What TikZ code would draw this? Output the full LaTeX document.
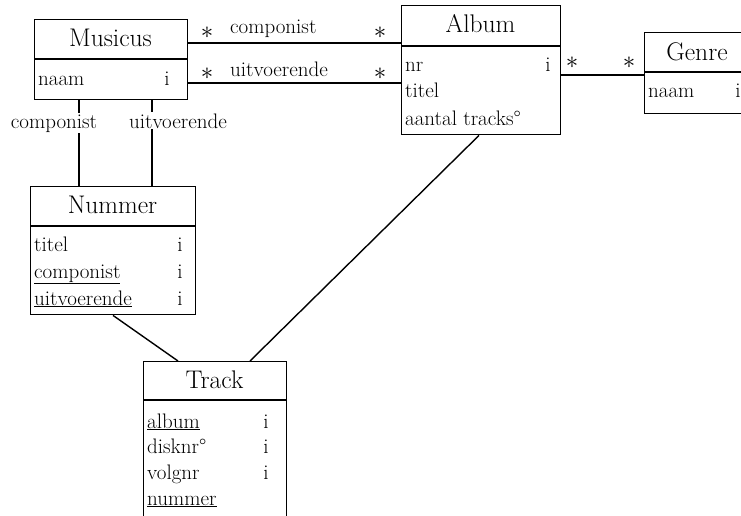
\documentclass[tikz,border=0pt]{standalone}
\begin{document}
\begin{tikzpicture}[x=1pt,y=-1pt,
  box/.style={draw, line width=1.4pt, rectangle, inner sep=0pt, anchor=north west},
  title/.style={font=\fontsize{25.5}{30}\selectfont, anchor=base, inner sep=0pt},
  attr/.style={font=\fontsize{21}{25}\selectfont, anchor=base west, inner sep=0pt},
  flag/.style={font=\fontsize{21}{25}\selectfont, anchor=base, inner sep=0pt},
  rolelabel/.style={font=\fontsize{21}{25}\selectfont, anchor=base, inner sep=1pt, fill=white},
  mult/.style={font=\fontsize{25}{29}\selectfont, inner sep=0pt},
  link/.style={line width=1.4pt},
]
\clip (0,0) rectangle (741,515);

% entity boxes
\node[box, minimum width=153pt, minimum height=80pt]  (musicus) at (34,19)  {};
\node[box, minimum width=159pt, minimum height=129pt] (album)   at (401,5)  {};
\node[box, minimum width=110pt, minimum height=81pt]  (genre)   at (644,32) {};
\node[box, minimum width=165pt, minimum height=128pt] (nummer)  at (30,186) {};
\node[box, minimum width=143pt, minimum height=170pt] (track)   at (143,361) {};

% header dividers
\draw[link] (musicus.west |- 0,59) -- (musicus.east |- 0,59);
\draw[link] (album.west |- 0,46) -- (album.east |- 0,46);
\draw[link] (genre.west |- 0,72) -- (genre.east |- 0,72);
\draw[link] (nummer.west |- 0,226) -- (nummer.east |- 0,226);
\draw[link] (track.west |- 0,400) -- (track.east |- 0,400);

% titles
\node[title] (t-musicus) at (110.5,46) {Musicus};
\node[title] (t-album)   at (480.5,32) {Album};
\node[title] (t-genre)   at (697,60)   {Genre};
\node[title] (t-nummer)  at (112.5,213) {Nummer};
\node[title] (t-track)   at (214.5,388) {Track};

% attributes
\node[attr] (a-m1) at (38,85) {naam};
\node[flag] (f-m1) at (167,85) {i};

\node[attr] (a-a1) at (405,71) {nr};
\node[flag] (f-a1) at (548,71) {i};
\node[attr] (a-a2) at (405,97) {titel};
\node[attr] (a-a3) at (405,125) {aantal tracks\textdegree};

\node[attr] (a-g1) at (648,97) {naam};
\node[flag] (f-g1) at (738,97) {i};

\node[attr] (a-n1) at (34,251) {titel};
\node[flag] (f-n1) at (180,251) {i};
\node[attr] (a-n2) at (34,278) {\underline{componist}};
\node[flag] (f-n2) at (180,278) {i};
\node[attr] (a-n3) at (34,305) {\underline{uitvoerende}};
\node[flag] (f-n3) at (180,305) {i};

\node[attr] (a-t1) at (147,428) {\underline{album}};
\node[flag] (f-t1) at (266,428) {i};
\node[attr] (a-t2) at (147,453) {disknr\textdegree};
\node[flag] (f-t2) at (266,453) {i};
\node[attr] (a-t3) at (147,479) {volgnr};
\node[flag] (f-t3) at (266,479) {i};
\node[attr] (a-t4) at (147,505) {\underline{nummer}};

% associations
\draw[link] (musicus.east |- 0,43) -- (album.west |- 0,43);
\draw[link] (musicus.east |- 0,83) -- (album.west |- 0,83);
\draw[link] (album.east |- 0,75) -- (genre.west |- 0,75);
\draw[link] (musicus.south -| 79,0) -- (nummer.north -| 79,0);
\draw[link] (musicus.south -| 152,0) -- (nummer.north -| 152,0);
\draw[link] (nummer.south -| 113,0) -- (track.north -| 178,0);
\draw[link] (album.south -| 479,0) -- (track.north -| 250,0);

% role names and multiplicities
\node[mult] (m1) at (207,33) {$\ast$};
\node[flag, anchor=base west] (r1) at (230,33) {componist};
\node[mult] (m2) at (380,33) {$\ast$};
\node[mult] (m3) at (207,74) {$\ast$};
\node[flag, anchor=base west] (r2) at (230,76) {uitvoerende};
\node[mult] (m4) at (380,74) {$\ast$};
\node[mult] (m5) at (572,63) {$\ast$};
\node[mult] (m6) at (629,63) {$\ast$};

\node[rolelabel] (r3) at (54,128) {componist};
\node[rolelabel] (r4) at (178,128) {uitvoerende};
\end{tikzpicture}
\end{document}
